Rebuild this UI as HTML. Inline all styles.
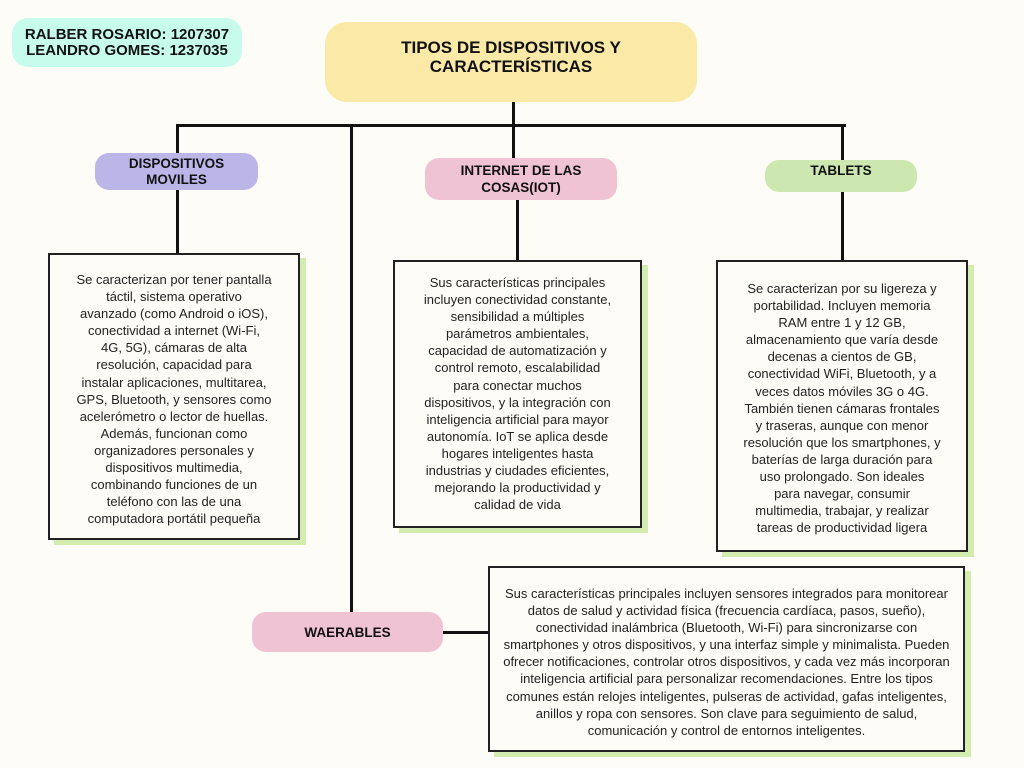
<!DOCTYPE html>
<html><head><meta charset="utf-8"><style>
body{margin:0;width:1024px;height:768px;background:#fdfcf7;position:relative;overflow:hidden;font-family:"Liberation Sans",sans-serif;}
.a{position:absolute;}
.pill{position:absolute;display:flex;align-items:center;justify-content:center;text-align:center;font-weight:bold;color:#111;border-radius:14px;}
.ln{position:absolute;background:#111;}
.box{position:absolute;border:2.5px solid #222;background:#fdfcf7;box-shadow:6px 5px 0 #d3edb0;text-align:center;font-size:13px;line-height:17.1px;color:#222;white-space:nowrap;box-sizing:border-box;}
</style></head><body>
<div class="pill" style="left:12px;top:18px;width:230px;height:49px;background:#c7fbeb;font-size:15px;line-height:16px;border-radius:16px;">RALBER ROSARIO: 1207307<br>LEANDRO GOMES: 1237035</div>
<div class="pill" style="left:325px;top:22px;width:372px;height:80px;background:#fbe9a8;font-size:17px;line-height:19px;border-radius:22px;align-items:flex-start;padding-top:16px;box-sizing:border-box;">TIPOS DE DISPOSITIVOS Y<br>CARACTERÍSTICAS</div>

<div class="ln" style="left:512px;top:102px;width:3px;height:24px"></div>
<div class="ln" style="left:176px;top:124px;width:670px;height:3px"></div>
<div class="ln" style="left:176px;top:124px;width:3px;height:30px"></div>
<div class="ln" style="left:350px;top:125px;width:3px;height:508px"></div>
<div class="ln" style="left:512px;top:125px;width:3px;height:34px"></div>
<div class="ln" style="left:841px;top:125px;width:3px;height:36px"></div>
<div class="ln" style="left:176px;top:190px;width:3px;height:64px"></div>
<div class="ln" style="left:516px;top:198px;width:3px;height:63px"></div>
<div class="ln" style="left:841px;top:191px;width:3px;height:70px"></div>
<div class="ln" style="left:440px;top:631px;width:50px;height:3px"></div>

<div class="pill" style="left:95px;top:153px;width:163px;height:37px;background:#bcb5e8;font-size:13.5px;line-height:16px;">DISPOSITIVOS<br>MOVILES</div>
<div class="pill" style="left:425px;top:158px;width:192px;height:42px;background:#efc3d3;font-size:13.5px;line-height:17px;align-items:flex-start;padding-top:4px;box-sizing:border-box;">INTERNET DE LAS<br>COSAS(IOT)</div>
<div class="pill" style="left:765px;top:160px;width:152px;height:32px;background:#cde7b0;font-size:13.5px;align-items:flex-start;padding-top:3px;box-sizing:border-box;">TABLETS</div>
<div class="pill" style="left:252px;top:612px;width:191px;height:40px;background:#efc3d3;font-size:13.5px;">WAERABLES</div>

<div class="box" style="left:48px;top:253px;width:252px;height:287px;padding-top:16px;">Se caracterizan por tener pantalla<br>táctil, sistema operativo<br>avanzado (como Android o iOS),<br>conectividad a internet (Wi-Fi,<br>4G, 5G), cámaras de alta<br>resolución, capacidad para<br>instalar aplicaciones, multitarea,<br>GPS, Bluetooth, y sensores como<br>acelerómetro o lector de huellas.<br>Además, funcionan como<br>organizadores personales y<br>dispositivos multimedia,<br>combinando funciones de un<br>teléfono con las de una<br>computadora portátil pequeña</div>

<div class="box" style="left:393px;top:260px;width:249px;height:268px;padding-top:12px;">Sus características principales<br>incluyen conectividad constante,<br>sensibilidad a múltiples<br>parámetros ambientales,<br>capacidad de automatización y<br>control remoto, escalabilidad<br>para conectar muchos<br>dispositivos, y la integración con<br>inteligencia artificial para mayor<br>autonomía. IoT se aplica desde<br>hogares inteligentes hasta<br>industrias y ciudades eficientes,<br>mejorando la productividad y<br>calidad de vida</div>

<div class="box" style="left:716px;top:260px;width:252px;height:292px;padding-top:18px;">Se caracterizan por su ligereza y<br>portabilidad. Incluyen memoria<br>RAM entre 1 y 12 GB,<br>almacenamiento que varía desde<br>decenas a cientos de GB,<br>conectividad WiFi, Bluetooth, y a<br>veces datos móviles 3G o 4G.<br>También tienen cámaras frontales<br>y traseras, aunque con menor<br>resolución que los smartphones, y<br>baterías de larga duración para<br>uso prolongado. Son ideales<br>para navegar, consumir<br>multimedia, trabajar, y realizar<br>tareas de productividad ligera</div>

<div class="box" style="left:488px;top:566px;width:477px;height:186px;padding-top:17px;">Sus características principales incluyen sensores integrados para monitorear<br>datos de salud y actividad física (frecuencia cardíaca, pasos, sueño),<br>conectividad inalámbrica (Bluetooth, Wi-Fi) para sincronizarse con<br>smartphones y otros dispositivos, y una interfaz simple y minimalista. Pueden<br>ofrecer notificaciones, controlar otros dispositivos, y cada vez más incorporan<br>inteligencia artificial para personalizar recomendaciones. Entre los tipos<br>comunes están relojes inteligentes, pulseras de actividad, gafas inteligentes,<br>anillos y ropa con sensores. Son clave para seguimiento de salud,<br>comunicación y control de entornos inteligentes.</div>
</body></html>
